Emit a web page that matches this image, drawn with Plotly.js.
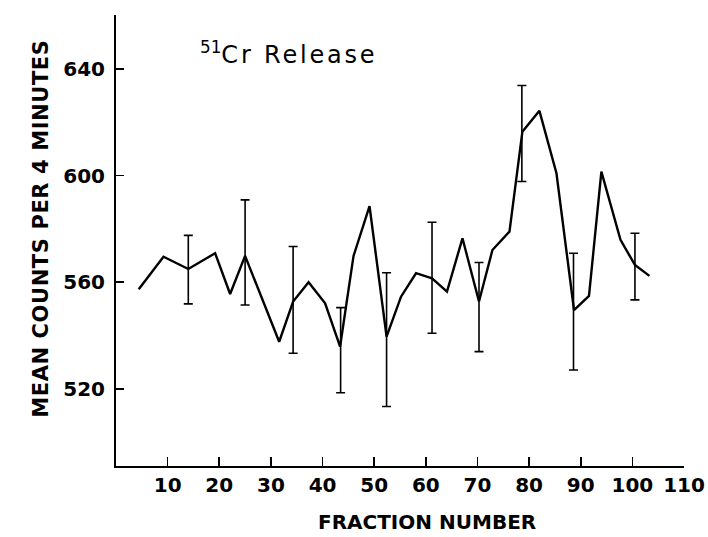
<!DOCTYPE html>
<html>
<head>
<meta charset="utf-8">
<script src="https://cdn.plot.ly/plotly-3.0.1.min.js"></script>
<style>html,body{margin:0;padding:0;background:#fff;}#chart{width:708px;height:537px;}</style>
</head>
<body>
<div id="chart"></div>
<script>
// Fraction number (x) and mean counts per 4 minutes (y) of the line
const fractionX = [4.4, 9.2, 14.0, 19.2, 22.1, 25.0, 31.6, 34.3, 37.3, 40.5, 43.4,
  46.0, 49.1, 52.4, 55.2, 58.1, 61.2, 64.1, 67.1, 70.3, 72.9,
  76.2, 78.7, 82.0, 85.3, 88.7, 91.6, 94.0, 97.7, 100.5, 103.3];
const meanCounts = [557.4, 569.6, 565.0, 570.9, 555.6, 569.9, 537.7, 552.8, 560.0, 552.1, 535.9,
  569.9, 588.6, 539.6, 554.6, 563.4, 561.5, 556.5, 576.5, 552.8, 572.1,
  579.0, 616.5, 624.3, 600.9, 549.6, 554.9, 601.5, 575.9, 566.5, 562.4];

// Error bars: fraction, upper end, lower end
const errX    = [14.0, 25.0, 34.3, 43.5, 52.4, 61.2, 70.3, 78.6, 88.6, 100.5];
const errHigh = [577.6, 590.9, 573.4, 550.5, 563.6, 582.5, 567.4, 633.8, 570.9, 578.4];
const errLow  = [551.9, 551.5, 533.4, 518.6, 513.4, 540.9, 534.0, 597.8, 527.1, 553.4];

const xTicks = [10, 20, 30, 40, 50, 60, 70, 80, 90, 100, 110];
const yTicks = [520, 560, 600, 640];

const errMid = errHigh.map((h, i) => (h + errLow[i]) / 2);
const errHalf = errHigh.map((h, i) => (h - errLow[i]) / 2);

const FONT = 'DejaVu Sans, Arial, sans-serif';

const traces = [
  {
    x: fractionX, y: meanCounts, type: 'scatter', mode: 'lines',
    line: {color: '#000', width: 2.4}, hoverinfo: 'skip', showlegend: false
  },
  {
    x: errX, y: errMid, type: 'scatter', mode: 'markers',
    marker: {size: 1, color: 'rgba(0,0,0,0)'},
    error_y: {type: 'data', array: errHalf, visible: true, color: '#000', thickness: 1.6, width: 4.5},
    hoverinfo: 'skip', showlegend: false
  }
];

const layout = {
  width: 708, height: 537,
  margin: {l: 116, r: 24, t: 15, b: 71, pad: 0},
  paper_bgcolor: '#fff', plot_bgcolor: '#fff',
  font: {family: FONT, size: 20, color: '#000', weight: 'bold'},
  xaxis: {
    range: [0, 110], showgrid: false, zeroline: false,
    showline: true, linecolor: '#000', linewidth: 2,
    ticks: 'inside', ticklen: 9, tickwidth: 1.6, tickcolor: '#000',
    tickvals: xTicks, ticktext: xTicks.map(String),
    tickfont: {family: FONT, size: 20, color: '#000', weight: 'bold'},
    fixedrange: true
  },
  yaxis: {
    range: [491.1, 660.25], showgrid: false, zeroline: false,
    showline: true, linecolor: '#000', linewidth: 2,
    ticks: 'inside', ticklen: 8, tickwidth: 1.6, tickcolor: '#000',
    tickvals: yTicks, ticktext: yTicks.map(String),
    ticklabelstandoff: 5,
    tickfont: {family: FONT, size: 20, color: '#000', weight: 'bold'},
    fixedrange: true
  },
  annotations: [
    {
      text: '<sup>51</sup><span style="letter-spacing:2.8px">Cr Release</span>',
      xref: 'paper', yref: 'paper', x: 0.145, y: 0.915,
      xanchor: 'left', yanchor: 'middle', showarrow: false,
      font: {family: FONT, size: 24, color: '#000', weight: 'normal'}
    },
    {
      text: 'FRACTION NUMBER',
      xref: 'paper', yref: 'paper', x: 0.548, y: -0.125,
      xanchor: 'center', yanchor: 'middle', showarrow: false,
      font: {family: FONT, size: 20, color: '#000', weight: 'bold'}
    },
    {
      text: '<span style="letter-spacing:0.6px">MEAN COUNTS PER 4 MINUTES</span>',
      xref: 'paper', yref: 'paper', x: -0.132, y: 0.526,
      xanchor: 'center', yanchor: 'middle', showarrow: false, textangle: -90,
      font: {family: FONT, size: 21, color: '#000', weight: 'bold'}
    }
  ]
};

Plotly.newPlot('chart', traces, layout, {staticPlot: true, displayModeBar: false});
</script>
</body>
</html>
